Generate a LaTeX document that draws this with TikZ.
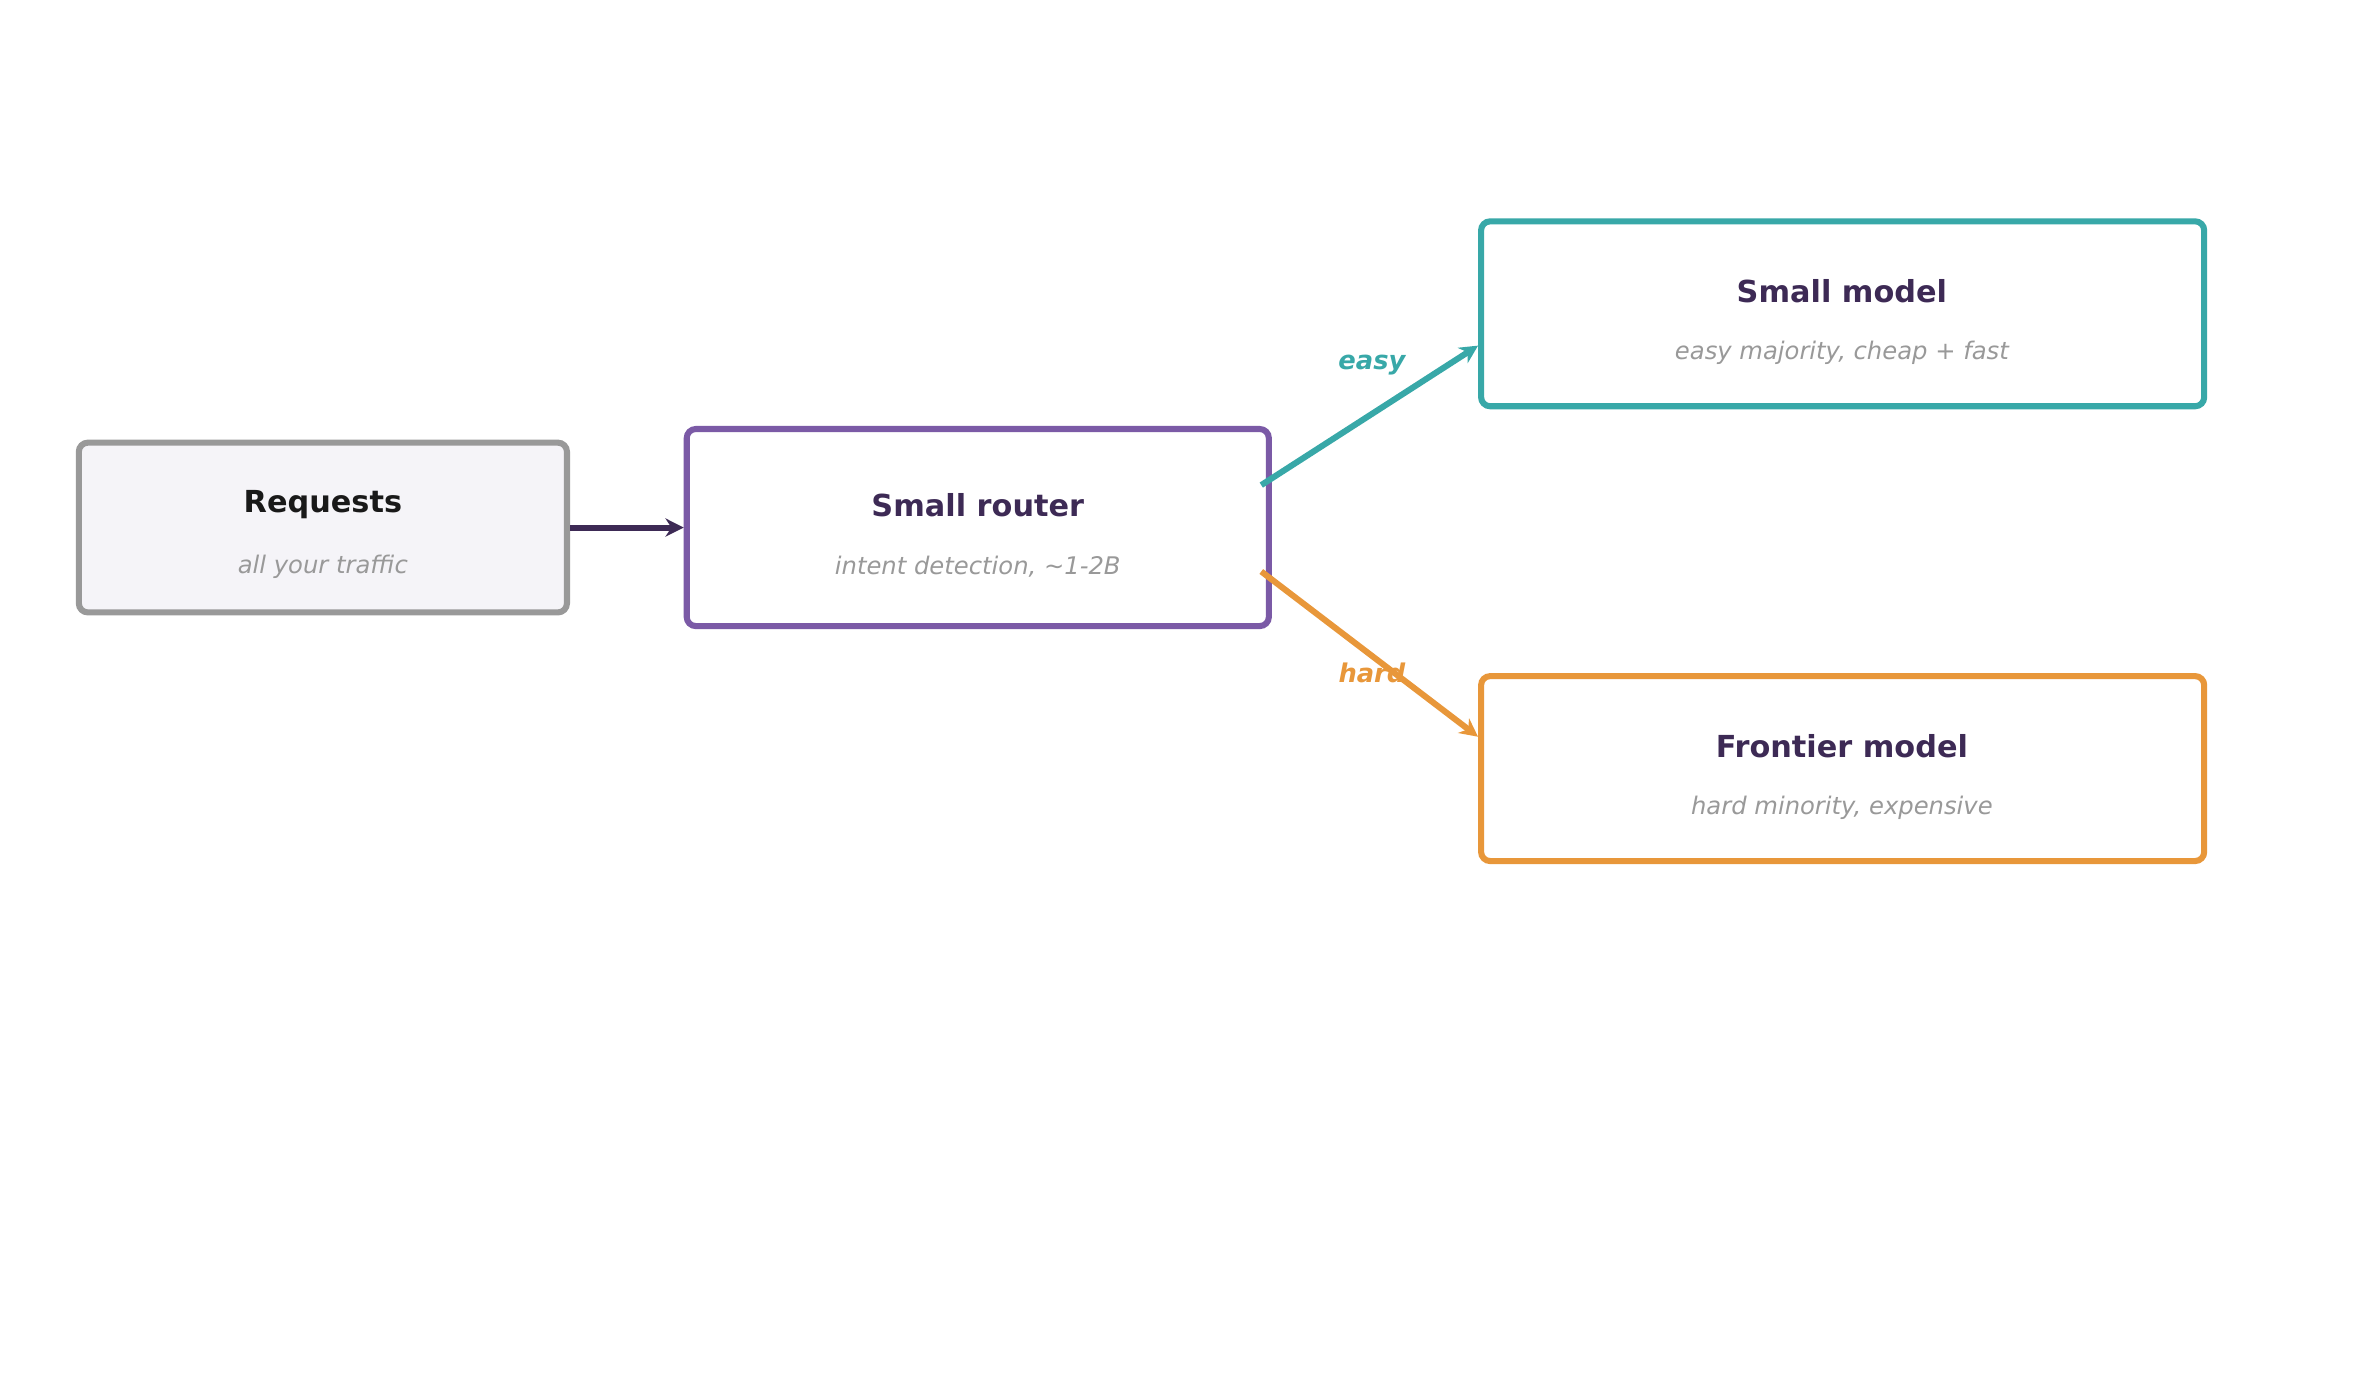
\documentclass[tikz,border=0pt]{standalone}
\usepackage{fontspec}
\setmainfont{DejaVu Sans}
\usetikzlibrary{arrows.meta}
\definecolor{cgray}{HTML}{999999}
\definecolor{cfill}{HTML}{F5F4F8}
\definecolor{cpurple}{HTML}{7B5AA6}
\definecolor{cteal}{HTML}{38A8A8}
\definecolor{corange}{HTML}{E8973A}
\definecolor{cdark}{HTML}{3D2A55}
\begin{document}
\begin{tikzpicture}[x=0.5pt,y=-0.5pt,
  box/.style={draw,line width=2pt,rounded corners=3pt,fill=white,inner sep=0pt},
  ttl/.style={font=\bfseries\fontsize{10}{12}\selectfont,text=cdark},
  sub/.style={font=\itshape\fontsize{8}{10}\selectfont,text=cgray},
  arr/.style={line width=2pt,-{Stealth[length=6pt,width=6pt]}},
  lbl/.style={font=\bfseries\itshape\fontsize{8.5}{10}\selectfont}]
\useasboundingbox (0,0) rectangle (1568,908);
\node[box,draw=cgray,fill=cfill,minimum width=161pt,minimum height=56pt] (req) at (213,348) {};
\node[box,draw=cpurple,minimum width=192pt,minimum height=65pt] (rt) at (645,348) {};
\node[box,draw=cteal,minimum width=238.5pt,minimum height=61pt] (sm) at (1215.5,207) {};
\node[box,draw=corange,minimum width=238.5pt,minimum height=61pt] (fm) at (1215.5,507) {};
\node[ttl,text=black!90] (t1) at (213,333) {Requests};
\node[sub] (s1) at (213,374) {all your traffic};
\node[ttl] (t2) at (645,333) {Small router};
\node[sub] (s2) at (645,374) {intent detection, \textasciitilde1-2B};
\node[ttl] (t3) at (1215,192) {Small model};
\node[sub] (s3) at (1215,233) {easy majority, cheap + fast};
\node[ttl] (t4) at (1215,492) {Frontier model};
\node[sub] (s4) at (1215,533) {hard minority, expensive};
\coordinate (a1) at (832,320);
\coordinate (a2) at (832,377);
\coordinate (e1) at (975,228);
\coordinate (e2) at (975,486);
\draw[arr,cdark] (req.east) -- (rt.west);
\draw[arr,cteal] (a1) -- (e1);
\draw[arr,corange] (a2) -- (e2);
\node[lbl,text=cteal] (le) at (905,241) {easy};
\node[lbl,text=corange] (lh) at (905,444) {hard};
\end{tikzpicture}
\end{document}
